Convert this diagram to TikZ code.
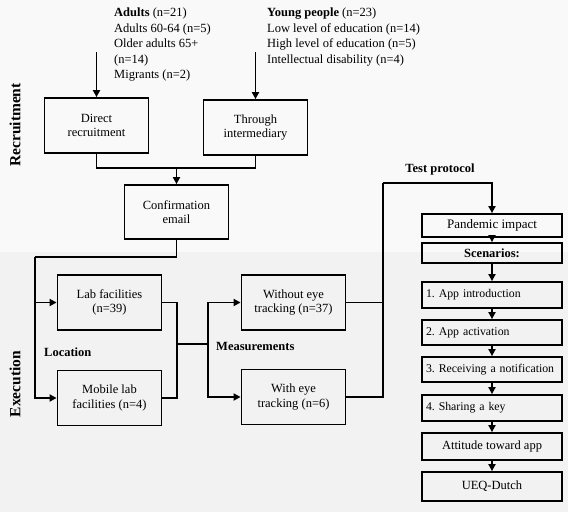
\documentclass[tikz,border=0pt]{standalone}
\usepackage{fontspec}
\setmainfont{Liberation Serif}
\usepackage{tikz}
\usetikzlibrary{arrows.meta}

\definecolor{bgtop}{HTML}{F9F9F9}
\definecolor{bgbottom}{HTML}{F2F2F2}

\tikzset{
  box/.style={draw, line width=1.8pt, align=center, inner sep=1pt,
    font=\fontsize{12.5}{14.5}\selectfont},
  bigbox/.style={box, minimum width=104pt, minimum height=55pt},
  stepbox/.style={box, minimum width=140pt},
  listbox/.style={stepbox, inner xsep=4pt, text width=132pt, align=left,
    font=\fontsize{11.8}{14}\selectfont},
  link/.style={line width=1.8pt},
  arrow/.style={link, -{Triangle[length=7pt,width=7pt]}},
  phase/.style={rotate=90, font=\fontsize{15.5}{17}\selectfont\bfseries},
  heading/.style={font=\fontsize{12.5}{14.5}\selectfont\bfseries, inner sep=0pt},
  group/.style={anchor=north west, align=left, inner sep=0pt,
    font=\fontsize{12.5}{15.5}\selectfont},
}

\begin{document}
\frenchspacing
\begin{tikzpicture}[x=1pt, y=-1pt]
\useasboundingbox (0,0) rectangle (568,512);
\fill[bgtop] (0,0) rectangle (568,252);
\fill[bgbottom] (0,252) rectangle (568,512);

% phases
\node[phase] (recruitment) at (15,125) {Recruitment};
\node[phase] (execution) at (15,384) {Execution};

% recruitment
\node[group] (adults) at (114,8) {\textbf{Adults} (n=21)\\Adults 60-64 (n=5)\\Older adults 65+\\(n=14)\\Migrants (n=2)};
\node[group] (young) at (267,8) {\textbf{Young people} (n=23)\\Low level of education (n=14)\\High level of education (n=5)\\Intellectual disability (n=4)};
\node[bigbox] (direct) at (96.5,125.5) {Direct\\recruitment};
\node[bigbox] (through) at (255.5,127.5) {Through\\intermediary};
\node[bigbox, minimum height=54pt] (confirm) at (176.5,212) {Confirmation\\email};
\coordinate (adultsin) at (96.5,52);
\coordinate (youngin) at (255.5,52);
\coordinate (merge) at (176.5,168);

\draw[arrow] (adultsin) -- (direct);
\draw[arrow] (youngin) -- (through);
\draw[link] (direct.south) |- (merge);
\draw[link] (through.south) |- (merge);
\draw[arrow] (merge) -- (confirm);

% execution
\node[bigbox] (lab) at (109.5,302.5) {Lab facilities\\(n=39)};
\node[bigbox] (mobile) at (109.5,398) {Mobile lab\\facilities (n=4)};
\node[bigbox] (without) at (293.5,302.5) {Without eye\\tracking (n=37)};
\node[bigbox] (with) at (293.5,397) {With eye\\tracking (n=6)};
\node[heading, anchor=west] (location) at (44,352) {Location};
\node[heading, anchor=west] (measurements) at (216,346) {Measurements};
\node[heading] (protocol) at (440,169) {Test protocol};

\coordinate (split) at (35,257);
\coordinate (locjoin) at (177,344);
\coordinate (measjoin) at (208,344);
\coordinate (testtop) at (383,183);

\draw[link] (confirm.south) |- (split);
\draw[arrow] (split) |- (lab.west);
\draw[arrow] (split) |- (mobile.west);
\draw[link] (lab.east) -| (locjoin);
\draw[link] (mobile.east) -| (locjoin);
\draw[link] (locjoin) -- (measjoin);
\draw[arrow] (measjoin) |- (without.west);
\draw[arrow] (measjoin) |- (with.west);

% test protocol
\node[stepbox, minimum height=23pt, font=\fontsize{13}{15}\selectfont] (pandemic) at (492,225.5) {Pandemic impact};
\node[stepbox, minimum height=20pt] (scenarios) at (492,253) {\textbf{Scenarios:}};
\node[listbox, minimum height=26pt] (intro) at (492,295) {1. App introduction};
\node[listbox, minimum height=25pt] (activation) at (492,332.5) {2. App activation};
\node[listbox, minimum height=25pt] (notification) at (492,369.5) {3. Receiving a notification};
\node[listbox, minimum height=26pt] (sharing) at (492,408) {4. Sharing a key};
\node[stepbox, minimum height=27pt] (attitude) at (492,446.5) {Attitude toward app};
\node[stepbox, minimum height=29pt] (ueq) at (492,486.5) {UEQ-Dutch};

\draw[link] (with.east) -| (testtop);
\draw[link] (without.east) -- (without.east -| testtop);
\draw[arrow] (testtop) -| (pandemic.north);
\foreach \a/\b in {pandemic/scenarios, scenarios/intro, intro/activation,
  activation/notification, notification/sharing, sharing/attitude, attitude/ueq}
  \draw[arrow] (\a) -- (\b);
\end{tikzpicture}
\end{document}
